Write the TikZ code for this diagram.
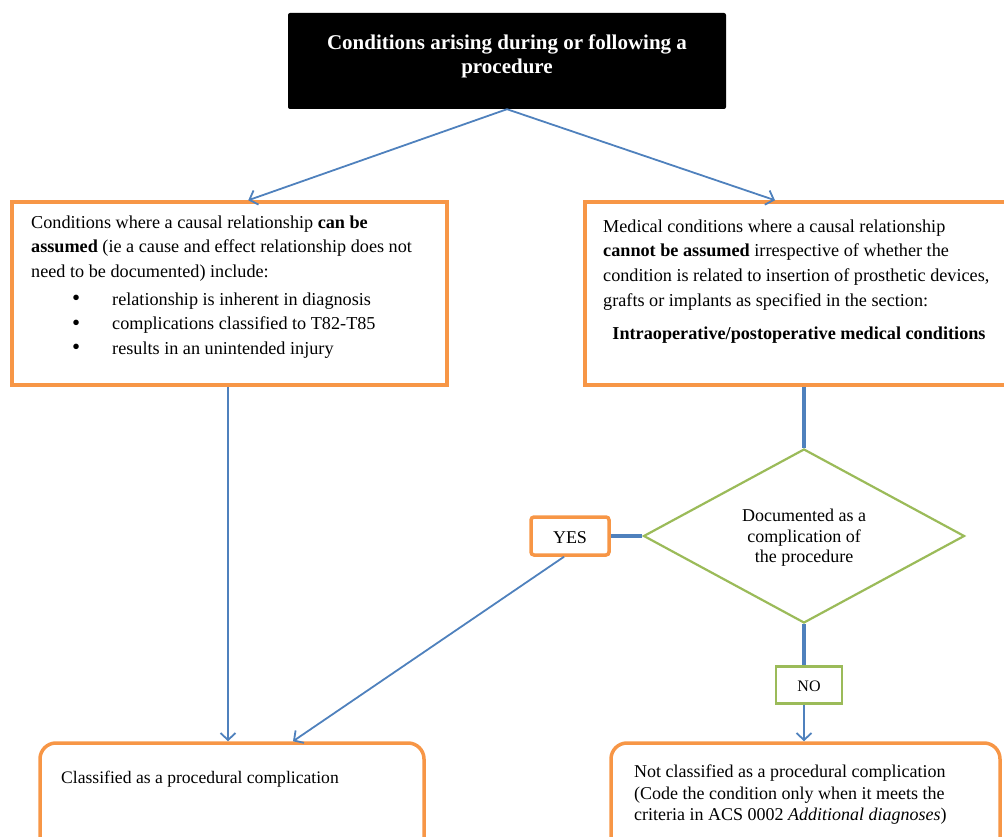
\documentclass[tikz,border=0pt]{standalone}
\usepackage{fontspec}
\setmainfont{Liberation Serif}
\usetikzlibrary{arrows.meta,shapes.geometric}
\definecolor{ob}{HTML}{F79646}
\definecolor{bl}{HTML}{4F81BD}
\definecolor{gr}{HTML}{9BBB59}
\newcommand{\bigbul}{\makebox[40pt][l]{\raisebox{-0.5pt}{\fontsize{23}{24}\selectfont\textbullet}}}
\begin{document}
\begin{tikzpicture}[x=1pt,y=-1pt,
  obox/.style={draw=ob, line width=3.5pt, fill=white, inner sep=0pt},
  rbox/.style={obox, rounded corners=16pt},
  gbox/.style={draw=gr, line width=2.5pt, fill=white, inner sep=0pt},
  txt/.style={inner sep=0pt, font=\fontsize{18.2}{24.6}\selectfont, align=left},
  arr/.style={draw=bl, line width=1.8pt, -{Straight Barb[length=7pt,width=15pt,line width=1.8pt]}},
  thick line/.style={draw=bl, line width=4pt}]
\useasboundingbox (0,0) rectangle (1004,837);
\clip (0,0) rectangle (1004,837);

% boxes
\node[fill=black, rounded corners=2pt, minimum width=438pt, minimum height=96pt, inner sep=0pt] (top) at (507,61) {};
\node[inner sep=0pt, text=white, align=center, font=\bfseries\fontsize{21}{24}\selectfont] (toptext) at (507,56) {Conditions arising during or following a\\procedure};

\node[obox, minimum width=435pt, minimum height=183pt] (lbox) at (229.5,293.5) {};
\node[txt, anchor=north west] (ltext) at (31,215.5)
{Conditions where a causal relationship \textbf{can be}\\
\textbf{assumed} (ie a cause and effect relationship does not\\
need to be documented) include:\\[3pt]
\hspace*{41pt}\bigbul relationship is inherent in diagnosis\\
\hspace*{41pt}\bigbul complications classified to T82-T85\\
\hspace*{41pt}\bigbul results in an unintended injury};

\node[obox, minimum width=438pt, minimum height=183pt] (rbox) at (804,293.5) {};
\node[txt, anchor=north west] (rtext) at (603,219.5)
{Medical conditions where a causal relationship\\
\textbf{cannot be assumed} irrespective of whether the\\
condition is related to insertion of prosthetic devices,\\
grafts or implants as specified in the section:};
\node[inner sep=0pt, font=\bfseries\fontsize{18.2}{25}\selectfont] (rbold) at (799,335) {Intraoperative/postoperative medical conditions};

\node[diamond, draw=gr, line width=2.2pt, minimum width=321pt, minimum height=174pt, inner sep=0pt, aspect=1.85] (dia) at (804,536) {};
\node[inner sep=0pt, align=center, font=\fontsize{18}{20.5}\selectfont] (diatext) at (804,538) {Documented as a\\complication of\\the procedure};

\node[obox, line width=3.5pt, rounded corners=3pt, minimum width=78pt, minimum height=38pt] (yes) at (570,536) {};
\node[inner sep=0pt, font=\fontsize{18}{20}\selectfont] (yestext) at (570,538) {YES};

\node[gbox, minimum width=66pt, minimum height=37pt] (no) at (809,685) {};
\node[inner sep=0pt, font=\fontsize{16}{18}\selectfont] (notext) at (809,686) {NO};

\node[rbox, minimum width=384pt, minimum height=120pt] (bl) at (232,803) {};
\node[inner sep=0pt, anchor=west, font=\fontsize{17.6}{21}\selectfont] (bltext) at (61,779) {Classified as a procedural complication};

\node[rbox, minimum width=389pt, minimum height=120pt] (br) at (805.5,803) {};
\node[inner sep=0pt, align=left, anchor=north west, font=\fontsize{18}{21.5}\selectfont] (brtext) at (634,765)
{Not classified as a procedural complication\\
(Code the condition only when it meets the\\
criteria in ACS 0002 \textit{Additional diagnoses})};

% connectors
\draw[arr] (top.south) -- ([xshift=238pt]lbox.north west);
\draw[arr] (top.south) -- ([xshift=-29pt]rbox.north);
\draw[arr] ([xshift=-1.5pt]lbox.south) -- ([xshift=-1.5pt]lbox.south |- bl.north);
\draw[thick line] (rbox.south) -- (dia.north);
\draw[thick line] (dia.west) -- (yes.east);
\draw[arr] ([xshift=-6pt]yes.south) -- ([xshift=61pt]bl.north);
\draw[thick line] (dia.south) -- (dia.south |- no.north);
\draw[arr] (dia.south |- no.south) -- (dia.south |- br.north);
\end{tikzpicture}
\end{document}
